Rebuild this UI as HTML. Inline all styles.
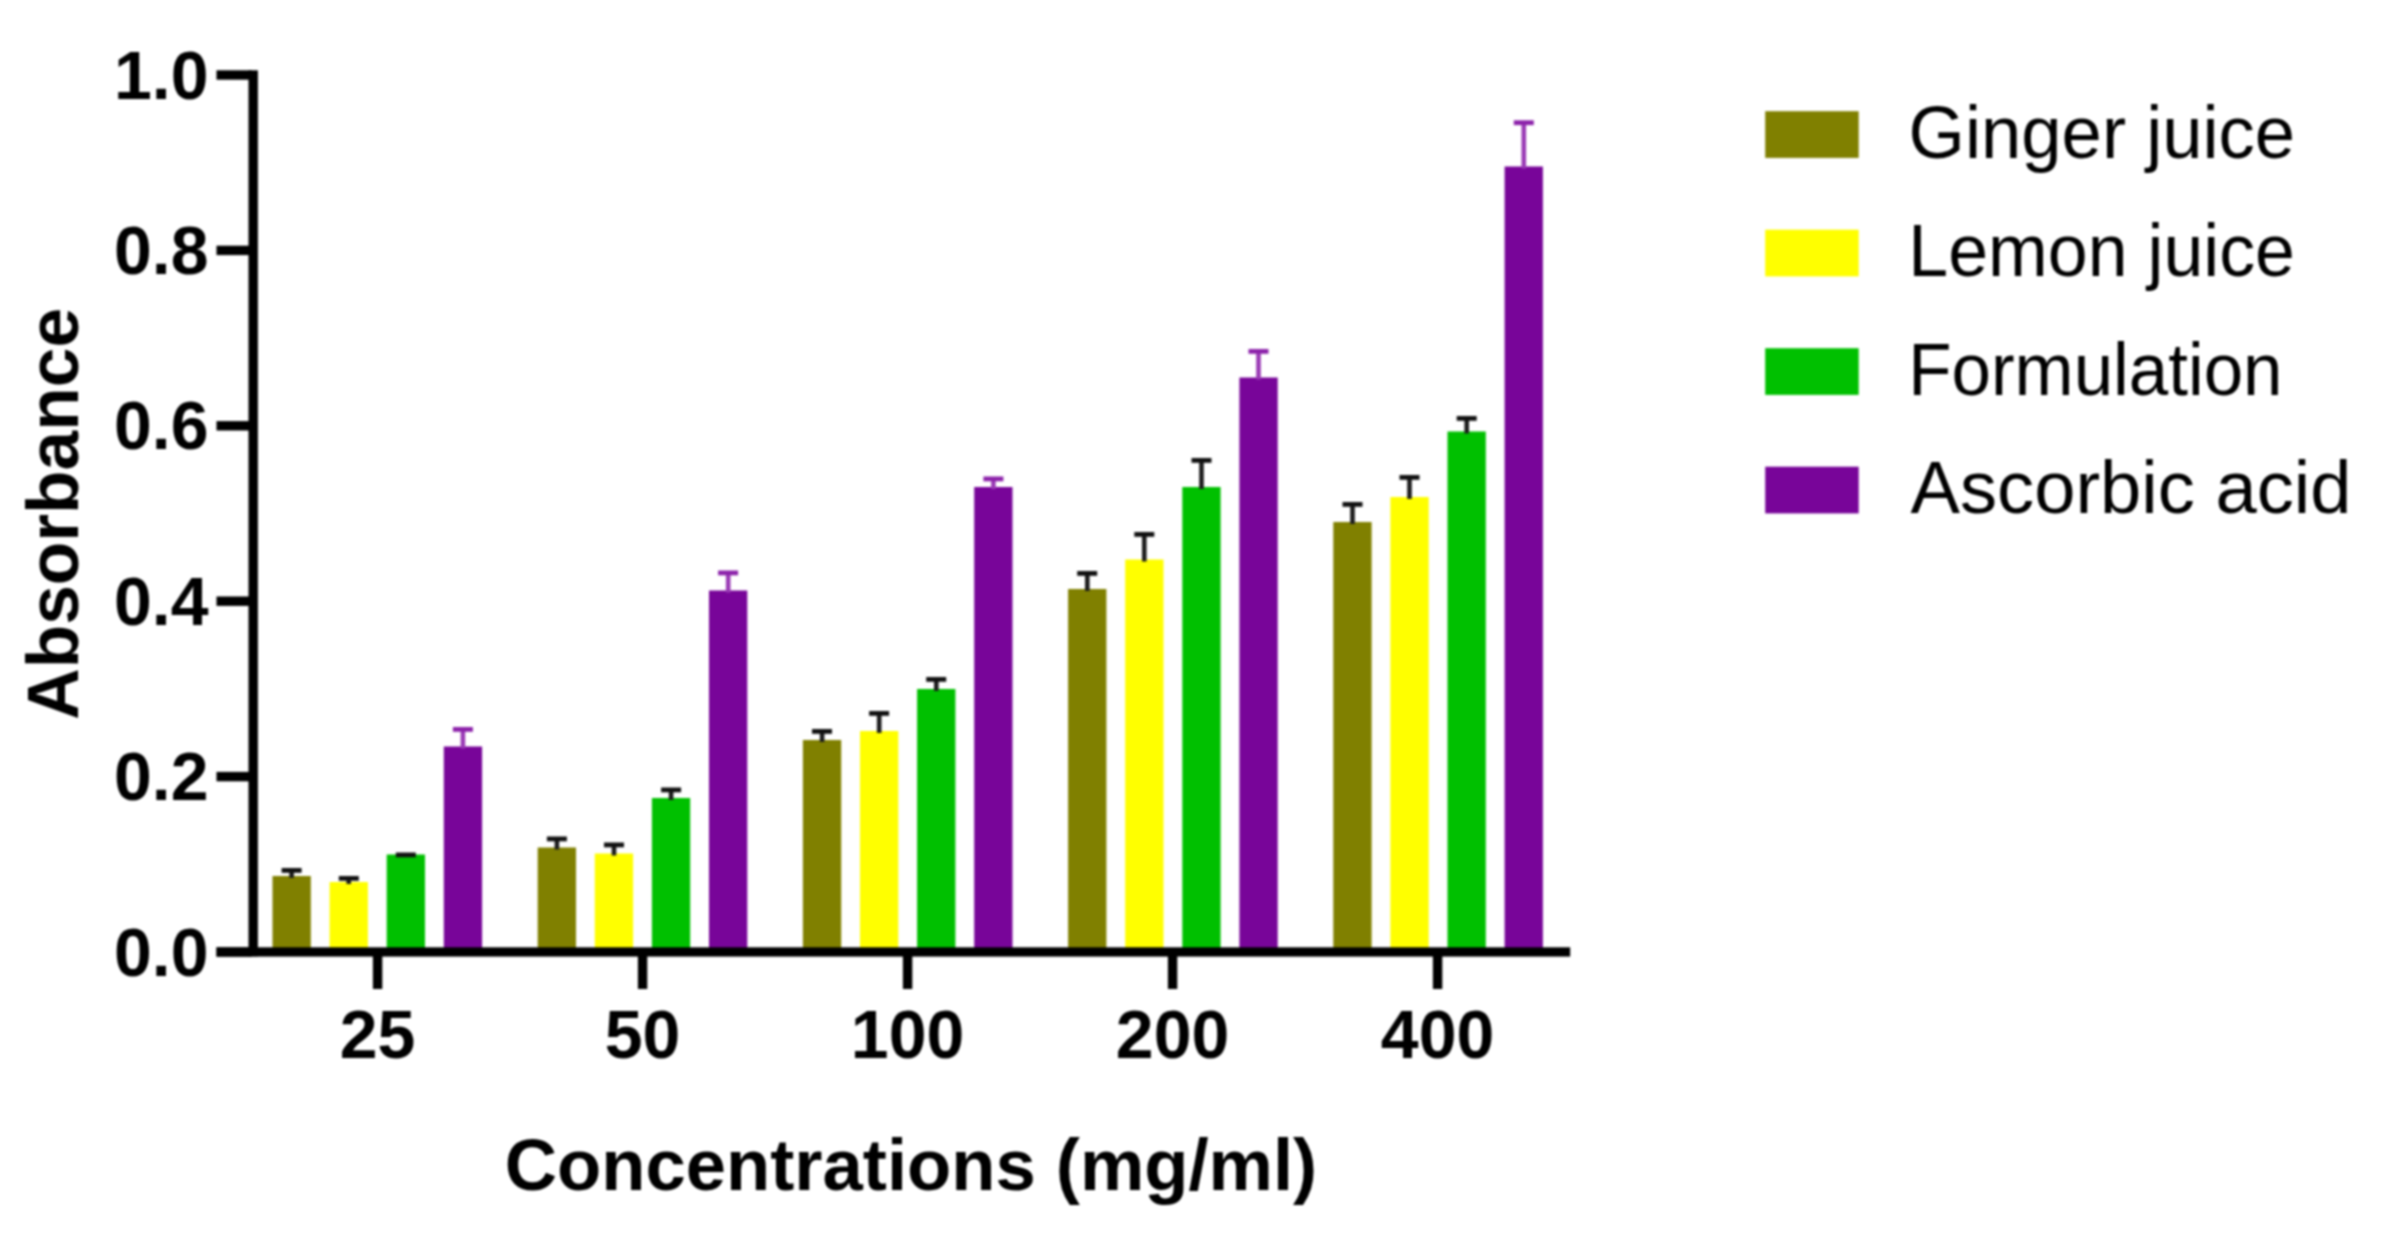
<!DOCTYPE html>
<html lang="en"><head><meta charset="utf-8"><title>Absorbance vs Concentrations</title>
<style>html,body{margin:0;padding:0;background:#fff}svg{display:block}</style></head>
<body>
<svg width="2402" height="1251" viewBox="0 0 2402 1251">
<rect width="2402" height="1251" fill="#fff"/>
<defs><filter id="soft" x="0" y="0" width="100%" height="100%" filterUnits="userSpaceOnUse" color-interpolation-filters="sRGB"><feGaussianBlur stdDeviation="0.9"/></filter></defs>
<g filter="url(#soft)"><rect width="2402" height="1251" fill="#fff"/>
<rect x="272.5" y="876" width="38.3" height="76" fill="#808000"/>
<rect x="289.3" y="870" width="4.6" height="8.0" fill="#1c1c1c"/>
<rect x="281.6" y="868" width="20" height="4.8" fill="#111"/>
<rect x="329.6" y="882" width="38.3" height="70" fill="#ffff00"/>
<rect x="346.4" y="878" width="4.6" height="6.0" fill="#1c1c1c"/>
<rect x="338.8" y="876" width="20" height="4.8" fill="#111"/>
<rect x="386.7" y="854.5" width="38.3" height="97.5" fill="#00c000"/>
<rect x="403.5" y="854.5" width="4.6" height="2.0" fill="#1c1c1c"/>
<rect x="395.8" y="852.5" width="20" height="4.8" fill="#111"/>
<rect x="443.8" y="746.5" width="38.3" height="205.5" fill="#780599"/>
<rect x="460.6" y="729" width="4.6" height="19.5" fill="#9a3ab5"/>
<rect x="452.9" y="727" width="20" height="4.8" fill="#8c22aa"/>
<rect x="537.7" y="847.5" width="38.3" height="104.5" fill="#808000"/>
<rect x="554.6" y="838.5" width="4.6" height="11.0" fill="#1c1c1c"/>
<rect x="546.9" y="836.5" width="20" height="4.8" fill="#111"/>
<rect x="594.8" y="853.5" width="38.3" height="98.5" fill="#ffff00"/>
<rect x="611.7" y="844.5" width="4.6" height="11.0" fill="#1c1c1c"/>
<rect x="604.0" y="842.5" width="20" height="4.8" fill="#111"/>
<rect x="651.9" y="798" width="38.3" height="154" fill="#00c000"/>
<rect x="668.8" y="789.5" width="4.6" height="10.5" fill="#1c1c1c"/>
<rect x="661.1" y="787.5" width="20" height="4.8" fill="#111"/>
<rect x="709.0" y="590.5" width="38.3" height="361.5" fill="#780599"/>
<rect x="725.9" y="572.5" width="4.6" height="20.0" fill="#9a3ab5"/>
<rect x="718.1" y="570.5" width="20" height="4.8" fill="#8c22aa"/>
<rect x="802.9" y="740" width="38.3" height="212" fill="#808000"/>
<rect x="819.8" y="731" width="4.6" height="11.0" fill="#1c1c1c"/>
<rect x="812.0" y="729" width="20" height="4.8" fill="#111"/>
<rect x="860.0" y="731" width="38.3" height="221" fill="#ffff00"/>
<rect x="876.9" y="713" width="4.6" height="20.0" fill="#1c1c1c"/>
<rect x="869.1" y="711" width="20" height="4.8" fill="#111"/>
<rect x="917.1" y="689" width="38.3" height="263" fill="#00c000"/>
<rect x="934.0" y="679" width="4.6" height="12.0" fill="#1c1c1c"/>
<rect x="926.2" y="677" width="20" height="4.8" fill="#111"/>
<rect x="974.2" y="487" width="38.3" height="465" fill="#780599"/>
<rect x="991.1" y="478.5" width="4.6" height="10.5" fill="#9a3ab5"/>
<rect x="983.4" y="476.5" width="20" height="4.8" fill="#8c22aa"/>
<rect x="1068.1" y="589" width="38.3" height="363" fill="#808000"/>
<rect x="1085.0" y="573" width="4.6" height="18.0" fill="#1c1c1c"/>
<rect x="1077.2" y="571" width="20" height="4.8" fill="#111"/>
<rect x="1125.2" y="559.5" width="38.3" height="392.5" fill="#ffff00"/>
<rect x="1142.0" y="534" width="4.6" height="27.5" fill="#1c1c1c"/>
<rect x="1134.3" y="532" width="20" height="4.8" fill="#111"/>
<rect x="1182.3" y="487" width="38.3" height="465" fill="#00c000"/>
<rect x="1199.2" y="460" width="4.6" height="29.0" fill="#1c1c1c"/>
<rect x="1191.5" y="458" width="20" height="4.8" fill="#111"/>
<rect x="1239.4" y="377.5" width="38.3" height="574.5" fill="#780599"/>
<rect x="1256.2" y="351" width="4.6" height="28.5" fill="#9a3ab5"/>
<rect x="1248.5" y="349" width="20" height="4.8" fill="#8c22aa"/>
<rect x="1333.3" y="522" width="38.3" height="430" fill="#808000"/>
<rect x="1350.2" y="504" width="4.6" height="20.0" fill="#1c1c1c"/>
<rect x="1342.5" y="502" width="20" height="4.8" fill="#111"/>
<rect x="1390.4" y="497" width="38.3" height="455" fill="#ffff00"/>
<rect x="1407.2" y="477" width="4.6" height="22.0" fill="#1c1c1c"/>
<rect x="1399.5" y="475" width="20" height="4.8" fill="#111"/>
<rect x="1447.5" y="431.5" width="38.3" height="520.5" fill="#00c000"/>
<rect x="1464.4" y="418" width="4.6" height="15.5" fill="#1c1c1c"/>
<rect x="1456.7" y="416" width="20" height="4.8" fill="#111"/>
<rect x="1504.6" y="166.5" width="38.3" height="785.5" fill="#780599"/>
<rect x="1521.5" y="122.3" width="4.6" height="46.2" fill="#9a3ab5"/>
<rect x="1513.8" y="120.3" width="20" height="4.8" fill="#8c22aa"/>
<rect x="248.5" y="70.3" width="9.4" height="886" fill="#000"/>
<rect x="216.5" y="947.3" width="1353.7" height="9.3" fill="#000"/>
<rect x="216.5" y="70.3" width="35" height="9.4" fill="#000"/>
<rect x="216.5" y="245.7" width="35" height="9.4" fill="#000"/>
<rect x="216.5" y="421.1" width="35" height="9.4" fill="#000"/>
<rect x="216.5" y="596.5" width="35" height="9.4" fill="#000"/>
<rect x="216.5" y="771.9" width="35" height="9.4" fill="#000"/>
<rect x="216.5" y="947.3" width="35" height="9.4" fill="#000"/>
<rect x="372.9" y="950" width="9.4" height="39" fill="#000"/>
<rect x="637.9" y="950" width="9.4" height="39" fill="#000"/>
<rect x="902.9" y="950" width="9.4" height="39" fill="#000"/>
<rect x="1167.9" y="950" width="9.4" height="39" fill="#000"/>
<rect x="1432.9" y="950" width="9.4" height="39" fill="#000"/>
<g font-family="'Liberation Sans', Arial, Helvetica, sans-serif" font-weight="bold" fill="#000">
<text x="208.5" y="98.5" font-size="68" text-anchor="end">1.0</text>
<text x="208.5" y="273.9" font-size="68" text-anchor="end">0.8</text>
<text x="208.5" y="449.3" font-size="68" text-anchor="end">0.6</text>
<text x="208.5" y="624.7" font-size="68" text-anchor="end">0.4</text>
<text x="208.5" y="800.1" font-size="68" text-anchor="end">0.2</text>
<text x="208.5" y="975.5" font-size="68" text-anchor="end">0.0</text>
<text x="377.6" y="1057.5" font-size="68" text-anchor="middle">25</text>
<text x="642.6" y="1057.5" font-size="68" text-anchor="middle">50</text>
<text x="907.6" y="1057.5" font-size="68" text-anchor="middle">100</text>
<text x="1172.6" y="1057.5" font-size="68" text-anchor="middle">200</text>
<text x="1437.6" y="1057.5" font-size="68" text-anchor="middle">400</text>
<text x="911" y="1190" font-size="72.4" text-anchor="middle">Concentrations (mg/ml)</text>
<text transform="translate(77.5,513.9) rotate(-90) scale(0.99,1)" font-size="72" text-anchor="middle">Absorbance</text>
</g>
<g font-family="'Liberation Sans', Arial, Helvetica, sans-serif" font-size="74" fill="#000">
<rect x="1765.2" y="111.2" width="93.5" height="46.7" fill="#808000"/>
<text transform="translate(1908.6,157.8) scale(0.979,1)">Ginger juice</text>
<rect x="1765.2" y="229.7" width="93.5" height="46.7" fill="#ffff00"/>
<text transform="translate(1908.3,276.3) scale(0.969,1)">Lemon juice</text>
<rect x="1765.2" y="348.2" width="93.5" height="46.7" fill="#00c000"/>
<text transform="translate(1908.3,394.8) scale(0.958,1)">Formulation</text>
<rect x="1765.2" y="466.7" width="93.5" height="46.7" fill="#780599"/>
<text transform="translate(1910.6,513.3) scale(1.002,1)">Ascorbic acid</text>
</g>
</g>
</svg>
</body></html>
